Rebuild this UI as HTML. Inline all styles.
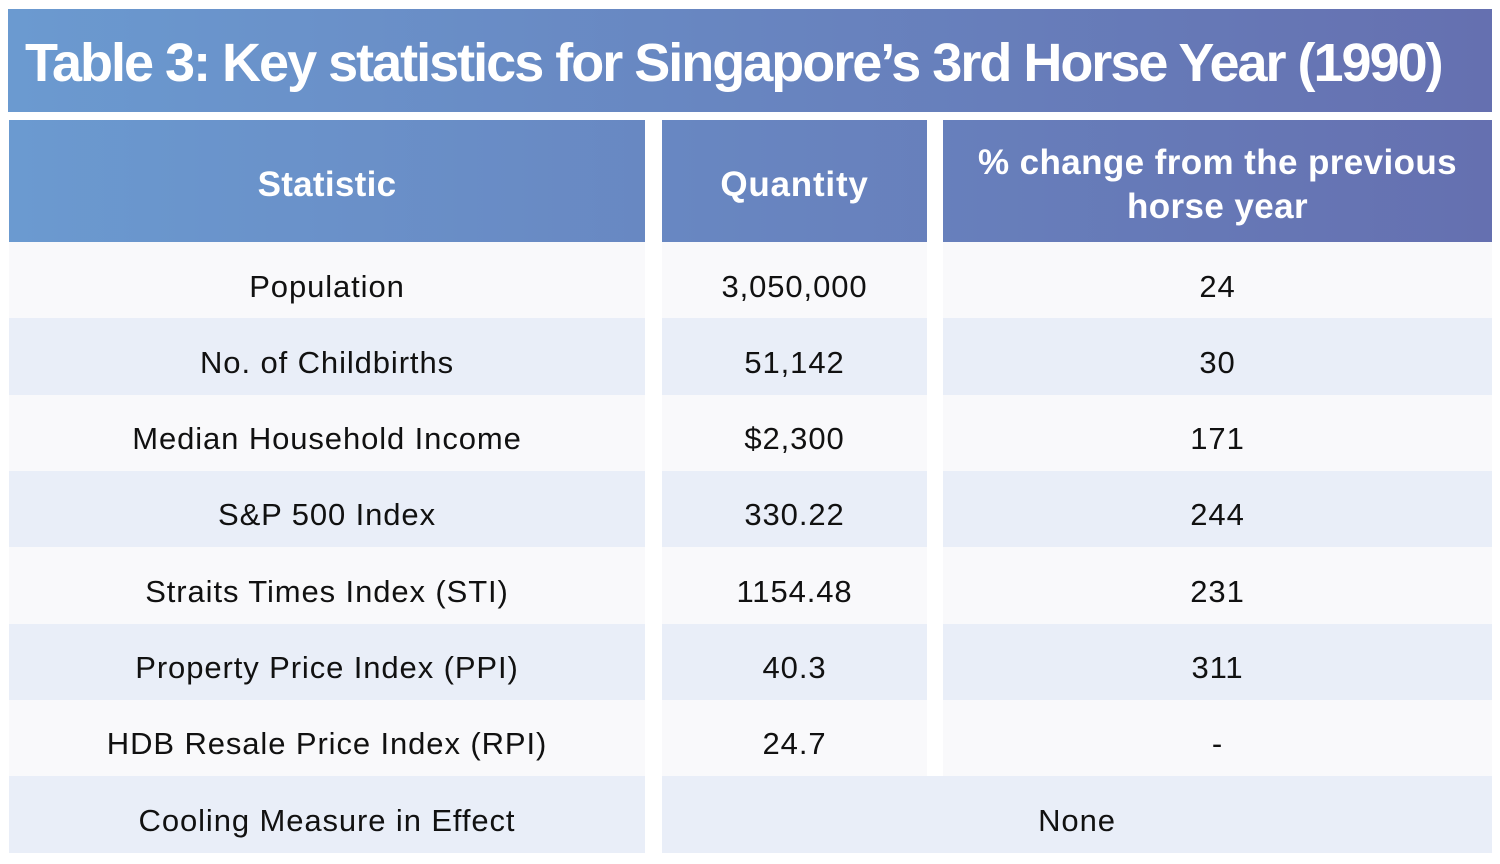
<!DOCTYPE html>
<html><head><meta charset="utf-8"><style>
body{margin:0;width:1500px;height:864px;background:#fff;position:relative;overflow:hidden;font-family:"Liberation Sans","DejaVu Sans",sans-serif}
.b{position:absolute;display:flex;align-items:center;justify-content:center;text-align:center;box-sizing:border-box}
.g{background:linear-gradient(90deg,#6b9ad0,#6570b0);background-size:1484px 100%;color:#fff;font-weight:bold}
.t{font-size:31px;color:#111;letter-spacing:0.9px;padding-top:12px}
.w{background:#f9f9fb}.l{background:#e9eef8}
</style></head><body>
<div class="b g" style="left:8px;top:9px;width:1484px;height:103px;justify-content:flex-start;padding-left:17px;padding-top:4px;font-size:54px;letter-spacing:-2px">Table 3: Key statistics for Singapore’s 3rd Horse Year (1990)</div>
<div class="b g" style="left:9px;top:120px;width:636px;height:122px;font-size:35px;padding-top:8px;letter-spacing:0.3px;background-position:-1px 0">Statistic</div>
<div class="b g" style="left:662px;top:120px;width:265px;height:122px;font-size:35px;padding-top:8px;letter-spacing:0.8px;background-position:-654px 0">Quantity</div>
<div class="b g" style="left:943px;top:120px;width:549px;height:122px;font-size:35px;line-height:44px;padding-top:8px;letter-spacing:0.4px;background-position:-935px 0">% change from the previous<br>horse year</div>
<div id="rows"></div>
<script>
var d=[["Population","3,050,000","24"],["No. of Childbirths","51,142","30"],["Median Household Income","$2,300","171"],["S&amp;P 500 Index","330.22","244"],["Straits Times Index (STI)","1154.48","231"],["Property Price Index (PPI)","40.3","311"],["HDB Resale Price Index (RPI)","24.7","-"],["Cooling Measure in Effect","None",null]];
var h="";
d.forEach(function(r,i){var y=242+i*76.3,c=i%2?"l":"w";
h+='<div class="b t '+c+'" style="left:9px;top:'+y+'px;width:636px;height:77px">'+r[0]+'</div>';
if(r[2]===null){h+='<div class="b t '+c+'" style="left:662px;top:'+y+'px;width:830px;height:77px">'+r[1]+'</div>';}
else{h+='<div class="b t '+c+'" style="left:662px;top:'+y+'px;width:265px;height:77px">'+r[1]+'</div>';
h+='<div class="b t '+c+'" style="left:943px;top:'+y+'px;width:549px;height:77px">'+r[2]+'</div>';}
});
document.getElementById("rows").innerHTML=h;
</script>
</body></html>
